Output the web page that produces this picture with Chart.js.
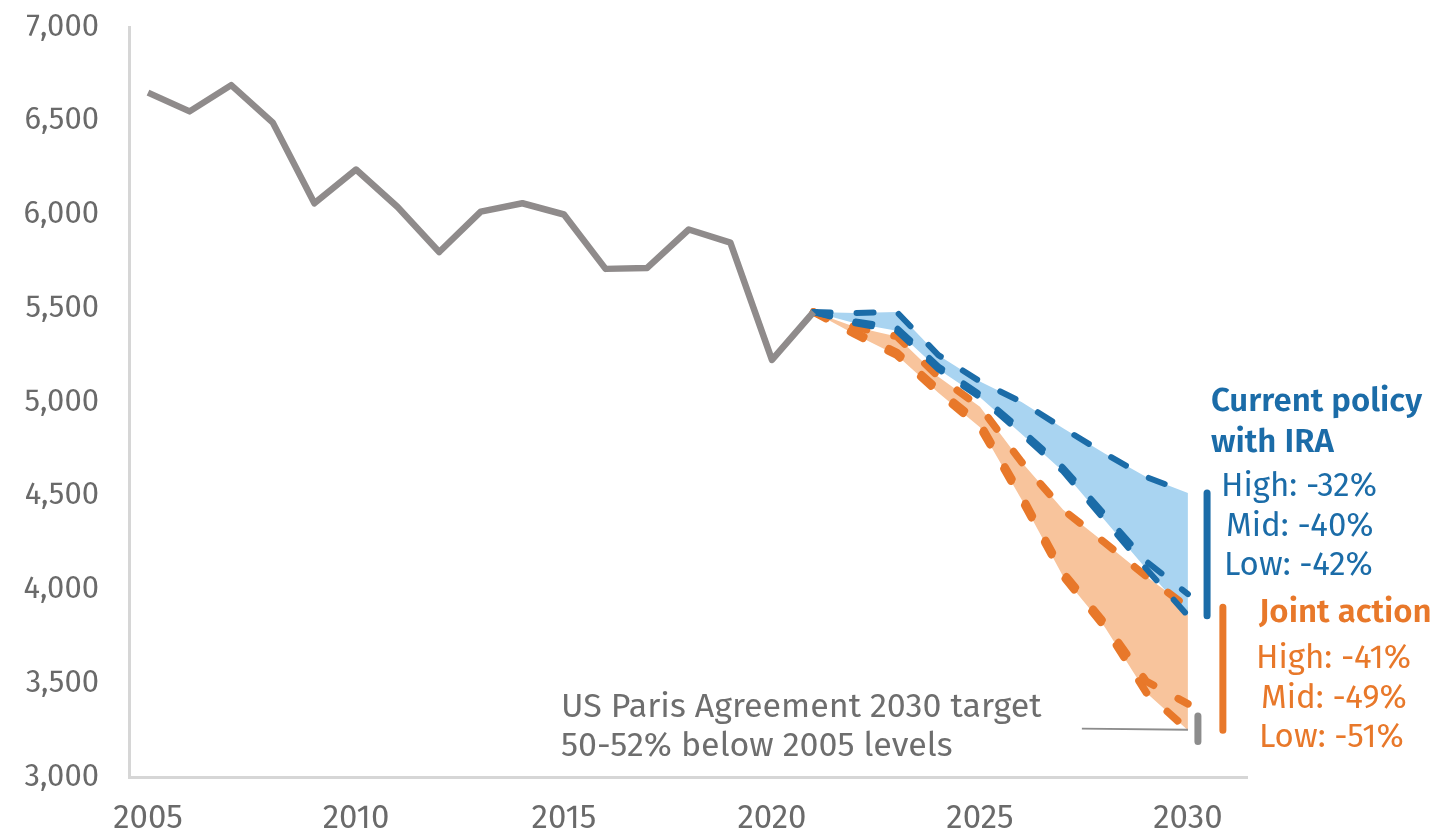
<!DOCTYPE html>
<html>
<head>
<meta charset="utf-8">
<script src="https://cdn.jsdelivr.net/npm/chart.js@4.4.1/dist/chart.umd.min.js"></script>
<style>
html,body{margin:0;padding:0;background:#ffffff;}
#wrap{width:1439px;height:835px;position:relative;}
</style>
</head>
<body>
<div id="wrap"><canvas id="c"></canvas></div>
<script>
// ---------- DATA ----------
const histYears = [2005,2006,2007,2008,2009,2010,2011,2012,2013,2014,2015,2016,2017,2018,2019,2020,2021];
const historical = [6650,6550,6690,6490,6060,6240,6040,5800,6015,6060,6000,5710,5715,5920,5850,5225,5480];

const projYears = [2021,2022,2023,2024,2025,2026,2027,2028,2029,2030];
const currentHigh = [5480,5475,5480,5250,5110,5000,4860,4725,4600,4515];
const currentMid  = [5480,5430,5395,5190,5040,4850,4650,4400,4150,3975];
const currentLow  = [5480,5420,5380,5175,5025,4830,4630,4370,4110,3860];
const jointHigh   = [5480,5400,5350,5135,4975,4680,4425,4250,4070,3905];
const jointMid    = [5480,5370,5265,5065,4885,4500,4090,3820,3510,3390];
const jointLow    = [5480,5360,5250,5050,4865,4480,4070,3800,3450,3250];

const targetRange = [3325, 3190];          // 50-52% below 2005 levels
const targetLeaderYears = [2027.45, 2030]; // leader line from label to target
const targetLeaderValues = [3258, 3252];

const yTicks = [3000,3500,4000,4500,5000,5500,6000,6500,7000];
const xTickYears = [2005,2010,2015,2020,2025,2030];

const labelTexts = [
  "Current policy", "with IRA",
  "High: -32%", "Mid: -40%", "Low: -42%",
  "Joint action",
  "High: -41%", "Mid: -49%", "Low: -51%",
  "US Paris Agreement 2030 target", "50-52% below 2005 levels"
];

// ---------- STYLE ----------
const FONT = '"Fira Sans", "Open Sans", "Noto Sans", sans-serif';
const BLUE = '#1b6ca8';
const BLUE_FILL = '#a9d4f1';
const ORANGE = '#e8782a';
const ORANGE_FILL = '#f8c49c';
const GRAY = '#8f8b8b';
const AXIS = '#d6d6d6';
const TICK = '#6a6a6a';

const xy = (xs, ys) => xs.map((x, i) => ({x, y: ys[i]}));

const blueDash = { borderColor: BLUE, borderWidth: 6, borderDash: [17, 26], borderCapStyle: 'round', borderJoinStyle: 'round', pointRadius: 0, tension: 0 };
const orangeDash = { borderColor: ORANGE, borderWidth: 7.5, borderDash: [14, 28], borderCapStyle: 'round', borderJoinStyle: 'round', pointRadius: 0, tension: 0 };

const datasets = [
  { label: 'Historical', data: xy(histYears, historical), borderColor: GRAY, borderWidth: 6.5, pointRadius: 0, borderJoinStyle: 'round', borderCapStyle: 'butt', tension: 0, fill: false },
  Object.assign({ label: 'Current high', data: xy(projYears, currentHigh), fill: { target: 3 }, backgroundColor: BLUE_FILL }, blueDash),
  Object.assign({ label: 'Current mid', data: xy(projYears, currentMid), fill: false }, blueDash),
  Object.assign({ label: 'Current low', data: xy(projYears, currentLow), fill: false }, blueDash),
  Object.assign({ label: 'Joint high', data: xy(projYears, jointHigh), fill: { target: 6 }, backgroundColor: ORANGE_FILL }, orangeDash),
  Object.assign({ label: 'Joint mid', data: xy(projYears, jointMid), fill: false }, orangeDash),
  Object.assign({ label: 'Joint low', data: xy(projYears, jointLow), fill: false }, orangeDash),
  // range brackets at the right of 2030
  { label: 'Current range', data: [{x: 2030.46, y: currentHigh[currentHigh.length-1]}, {x: 2030.46, y: currentLow[currentLow.length-1]}],
    borderColor: BLUE, borderWidth: 7, borderCapStyle: 'round', pointRadius: 0, fill: false },
  { label: 'Joint range', data: [{x: 2030.84, y: jointHigh[jointHigh.length-1]}, {x: 2030.84, y: jointLow[jointLow.length-1]}],
    borderColor: ORANGE, borderWidth: 7, borderCapStyle: 'round', pointRadius: 0, fill: false },
  { label: 'Target range', data: [{x: 2030.24, y: targetRange[0]}, {x: 2030.24, y: targetRange[1]}],
    borderColor: '#8c8c8c', borderWidth: 7, borderCapStyle: 'round', pointRadius: 0, fill: false },
  { label: 'Target leader', data: xy(targetLeaderYears, targetLeaderValues),
    borderColor: '#8c8c8c', borderWidth: 2, pointRadius: 0, fill: false }
];

const labelPlugin = {
  id: 'textLabels',
  afterDatasetsDraw(chart) {
    const ctx = chart.ctx;
    const specs = [
      {i:0, x:1211, y:411, f:'600 33px', c:BLUE},
      {i:1, x:1211, y:452, f:'600 33px', c:BLUE},
      {i:2, x:1221, y:496, f:'33px', c:BLUE},
      {i:3, x:1226, y:536, f:'33px', c:BLUE},
      {i:4, x:1224, y:575, f:'33px', c:BLUE},
      {i:5, x:1259, y:622, f:'600 33px', c:ORANGE},
      {i:6, x:1256, y:668, f:'33px', c:ORANGE},
      {i:7, x:1261, y:708, f:'33px', c:ORANGE},
      {i:8, x:1259, y:747, f:'33px', c:ORANGE},
      {i:9, x:561, y:717, f:'34px', c:'#6e6e6e'},
      {i:10, x:561, y:756, f:'34px', c:'#6e6e6e'}
    ];
    ctx.save();
    ctx.textAlign = 'left';
    ctx.textBaseline = 'alphabetic';
    specs.forEach(s => {
      ctx.font = s.f + ' ' + FONT;
      ctx.fillStyle = s.c;
      ctx.fillText(labelTexts[s.i], s.x, s.y);
    });
    ctx.restore();
  }
};

new Chart(document.getElementById('c'), {
  type: 'line',
  data: { datasets },
  plugins: [labelPlugin],
  options: {
    responsive: true,
    maintainAspectRatio: false,
    animation: false,
    layout: { padding: { top: 27, right: 192, bottom: 0, left: 0 } },
    plugins: {
      legend: { display: false },
      tooltip: { enabled: false },
      filler: { drawTime: 'beforeDatasetsDraw', propagate: false }
    },
    scales: {
      x: {
        type: 'linear',
        min: 2004.543,
        max: 2031.42,
        grid: { display: false, drawTicks: false },
        border: { display: true, color: AXIS, width: 3 },
        afterBuildTicks: (scale) => { scale.ticks = xTickYears.map(v => ({ value: v })); },
        afterFit: (scale) => { scale.height = 58; scale.paddingLeft = 0; scale.paddingRight = 0; },
        ticks: {
          autoSkip: false,
          maxRotation: 0,
          padding: 22,
          color: TICK,
          font: { family: FONT, size: 33 },
          callback: (v) => String(v)
        }
      },
      y: {
        type: 'linear',
        min: 3000,
        max: 7000,
        grid: { display: false, drawTicks: false },
        border: { display: true, color: AXIS, width: 3 },
        afterBuildTicks: (scale) => { scale.ticks = yTicks.map(v => ({ value: v })); },
        afterFit: (scale) => { scale.width = 129; scale.paddingTop = 0; scale.paddingBottom = 0; },
        ticks: {
          padding: 30,
          color: TICK,
          font: { family: FONT, size: 31 },
          callback: (v) => v.toLocaleString('en-US')
        }
      }
    }
  }
});
</script>
</body>
</html>
